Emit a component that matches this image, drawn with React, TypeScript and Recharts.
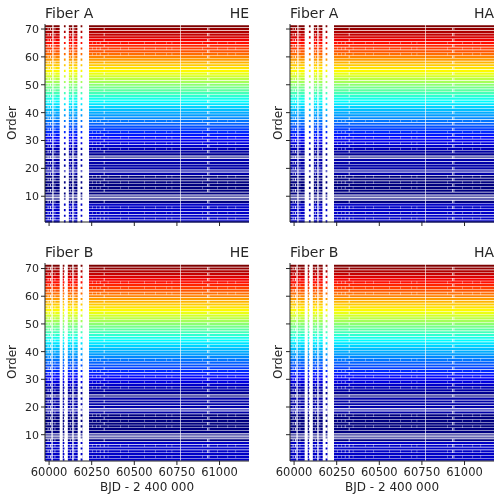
import React from "react";
import { LineChart, Line, XAxis, YAxis } from "recharts";

const orders = [
  1, 2, 3, 4, 5, 6, 7, 8, 9, 10, 11, 12, 13, 14, 15, 16, 17, 18, 19, 20, 21, 22, 23, 24,
  25, 26, 27, 28, 29, 30, 31, 32, 33, 34, 35, 36, 37, 38, 39, 40, 41, 42, 43, 44, 45, 46, 47, 48,
  49, 50, 51, 52, 53, 54, 55, 56, 57, 58, 59, 60, 61, 62, 63, 64, 65, 66, 67, 68, 69, 70, 71,
];
const xTicks = [60000, 60250, 60500, 60750, 61000];
const yTicks = [10, 20, 30, 40, 50, 60, 70];

const fullGapsA: number[][] = [
  [60019, 60026], [60062, 60087], [60097, 60116], [60136, 60144], [60166, 60185], [60195, 60234],
  [60768, 60772],
];
const fullGapsB: number[][] = [
  [60014, 60021], [60062, 60080], [60090, 60110], [60136, 60144], [60168, 60185], [60196, 60234],
  [60768, 60772],
];
const dottedGaps: number[][] = [
  [59992, 59996], [60005, 60010], [60033, 60036], [60087, 60097], [60122, 60126], [60150, 60153],
  [60185, 60195], [60321, 60325], [60928, 60932], [60936, 60940],
];
const faintGaps: number[][] = [
  [60255, 60257], [60278, 60280], [60298, 60301], [60345, 60347], [60420, 60422], [60465, 60467],
  [60560, 60562], [60625, 60627], [60690, 60692], [60720, 60722], [60900, 60902], [60987, 60989],
  [61048, 61050], [61095, 61097],
];
const dottedOrders = [
  2, 4, 6, 8, 12, 14, 16, 18, 20, 22, 24, 26, 28, 30, 32, 34, 36, 38, 40, 42, 44, 46, 48,
  50, 52, 54, 56, 58, 60, 62, 64, 66, 68, 70,
];
const faintOrders = [2, 4, 6, 13, 15, 17, 27, 29, 31, 33, 37, 61, 63, 65];
const fadedOrders = [9, 10, 19, 24];

function jet(t: number): string {
  const c = (v: number) => Math.round(255 * Math.max(0, Math.min(1, v)));
  const r = 1.5 - Math.abs(4 * t - 3);
  const g = 1.5 - Math.abs(4 * t - 2);
  const b = 1.5 - Math.abs(4 * t - 1);
  return `rgb(${c(r)},${c(g)},${c(b)})`;
}
function orderColor(o: number): string {
  if (o >= 43) return jet(0.35 + (o - 43) * 0.0233);
  if (o >= 24) return jet(0.11 + (o - 30) * 0.0185);
  if (o <= 7) return jet(0.07);
  if (o >= 18) return jet(0.04);
  return jet(0);
}

function buildRows(fullGaps: number[][]) {
  const inside = (t: number, g: number[]) => t > g[0] && t < g[1];
  const all = [...fullGaps, ...dottedGaps, ...faintGaps];
  const stamps = new Set<number>([59976, 61173]);
  all.forEach((g) => {
    stamps.add(g[0]);
    stamps.add(g[1]);
    stamps.add((g[0] + g[1]) / 2);
  });
  return [...stamps]
    .sort((a, b) => a - b)
    .map((t) => {
      const row: Record<string, number | null> = { t };
      orders.forEach((o) => {
        const gone =
          fullGaps.some((g) => inside(t, g)) ||
          (dottedOrders.includes(o) && dottedGaps.some((g) => inside(t, g))) ||
          (faintOrders.includes(o) && faintGaps.some((g) => inside(t, g)));
        row[`o${o}`] = gone ? null : o;
      });
      return row;
    });
}

const rowsA = buildRows(fullGapsA);
const rowsB = buildRows(fullGapsB);
const font = "'DejaVu Sans'";
const ink = "#262626";

type PanelProps = {
  rows: Record<string, number | null>[];
  title: string;
  tag: string;
  left: number;
  top: number;
  yMin: number;
  yMax: number;
  showX: boolean;
  showY: boolean;
};

function Panel({ rows, title, tag, left, top, yMin, yMax, showX, showY }: PanelProps) {
  const W = 204;
  const H = top > 100 ? 198 : 198;
  const bottomSpace = 500 - top - H;
  const tickStyle = { fontFamily: font, fontSize: 11.5, fill: ink };
  const labelX = showY ? left - 33 : left - 12;
  return (
    <div style={{ position: "absolute", left: 0, top: 0, width: 500, height: 500 }}>
      <LineChart
        width={500}
        height={500}
        data={rows}
        margin={{ left: left - 35, top, right: 500 - left - W, bottom: bottomSpace - 30 }}
      >
        {orders.map((o) => (
          <Line
            key={o}
            yAxisId="l"
            xAxisId="b"
            dataKey={`o${o}`}
            stroke={orderColor(o)}
            strokeOpacity={fadedOrders.includes(o) ? 0.6 : 1}
            strokeWidth={2.15}
            dot={false}
            activeDot={false}
            connectNulls={false}
            isAnimationActive={false}
            legendType="none"
          />
        ))}
        <XAxis
          xAxisId="b"
          dataKey="t"
          type="number"
          domain={[59976, 61173]}
          ticks={xTicks}
          height={30}
          interval={0}
          tickSize={4}
          tickMargin={3}
          stroke={ink}
          tick={tickStyle}
          tickFormatter={showX ? (v: number) => String(v) : () => ""}
        />
        <XAxis xAxisId="t" orientation="top" dataKey="t" type="number" domain={[59976, 61173]} height={0} tick={false} tickLine={false} stroke={ink} />
        <YAxis
          yAxisId="l"
          type="number"
          domain={[yMin, yMax]}
          ticks={yTicks}
          width={35}
          interval={0}
          tickSize={4}
          tickMargin={2}
          stroke={ink}
          tick={{ ...tickStyle, fontSize: 11 }}
          tickFormatter={showY ? (v: number) => String(v) : () => ""}
        />
        <YAxis yAxisId="r" orientation="right" type="number" domain={[yMin, yMax]} width={0} tick={false} tickLine={false} stroke={ink} />
        <text x={left} y={top - 6} fontFamily={font} fontSize={14} fill={ink}>{title}</text>
        <text x={left + W} y={top - 6} textAnchor="end" fontFamily={font} fontSize={14} fill={ink}>{tag}</text>
        <text
          x={labelX}
          y={top + H / 2}
          textAnchor="middle"
          fontFamily={font}
          fontSize={12}
          fill={ink}
          transform={`rotate(-90 ${labelX} ${top + H / 2})`}
          dominantBaseline="central"
        >
          Order
        </text>
        {showX ? (
          <text x={left + W / 2} y={top + H + 30} textAnchor="middle" fontFamily={font} fontSize={12} fill={ink}>
            BJD - 2 400 000
          </text>
        ) : null}
      </LineChart>
    </div>
  );
}

export default function App() {
  return (
    <div style={{ position: "absolute", left: 0, top: 0, width: 500, height: 500, background: "#fff", filter: "blur(0.3px)" }}>
      <Panel rows={rowsA} title="Fiber A" tag="HE" left={45} top={24} yMin={0.76} yMax={71.8} showX={false} showY={true} />
      <Panel rows={rowsA} title="Fiber A" tag="HA" left={290} top={24} yMin={0.76} yMax={71.8} showX={false} showY={false} />
      <Panel rows={rowsB} title="Fiber B" tag="HE" left={45} top={263} yMin={0.5} yMax={72} showX={true} showY={true} />
      <Panel rows={rowsB} title="Fiber B" tag="HA" left={290} top={263} yMin={0.5} yMax={72} showX={true} showY={false} />
    </div>
  );
}
